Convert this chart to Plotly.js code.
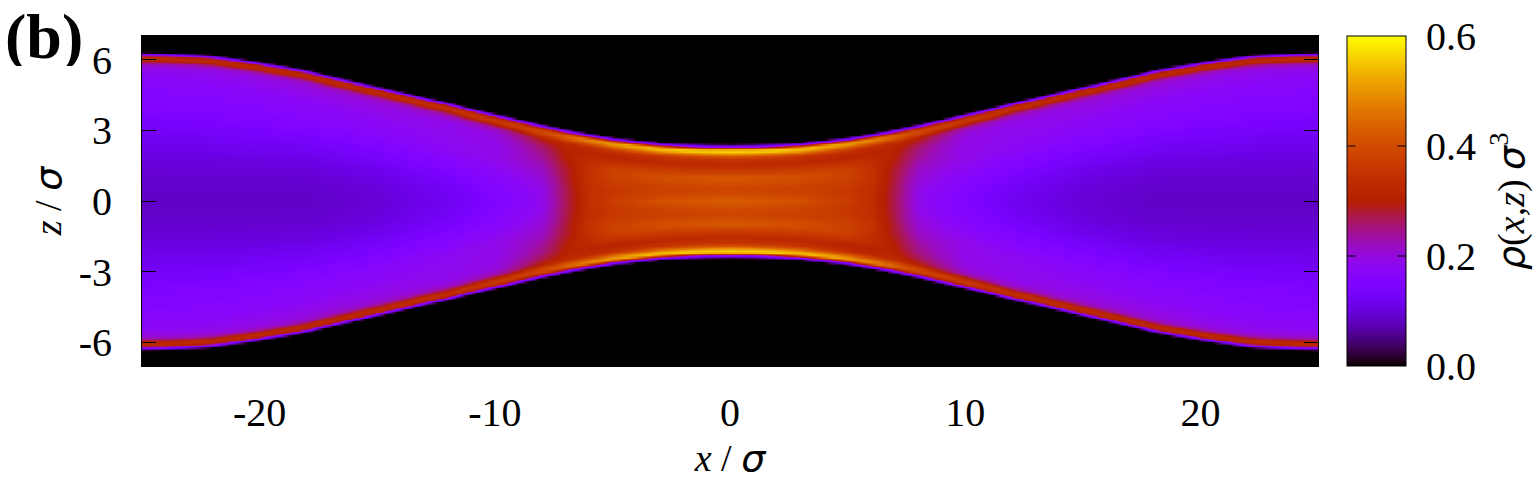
<!DOCTYPE html>
<html>
<head>
<meta charset="utf-8">
<script src="https://cdn.plot.ly/plotly-3.0.1.min.js"></script>
<style>html,body{margin:0;padding:0;background:#fff}#chart{width:1534px;height:480px}</style>
</head>
<body>
<div id="chart"></div>
<script>
// Values (the chart is mirror-symmetric in x and z).
var wallX = [-25, -24, -23, -22, -21, -20, -19, -18, -17, -16, -15, -14, -13, -12, -11, -10, -9, -8, -7, -6, -5, -4, -3, -2, -1, 0];
var wallHeight = [6.31, 6.30, 6.26, 6.2, 6.07, 5.92, 5.76, 5.57, 5.33, 5.1, 4.88, 4.65, 4.42, 4.2, 3.95, 3.72, 3.5, 3.27, 3.07, 2.88, 2.72, 2.6, 2.5, 2.45, 2.42, 2.41];
var xStations  = [-25, -21, -18, -15, -12, -10, -9, -8, -7.4, -6.8, -6, -5, -3, 0];
// Sampling of every column: depth below the wall, then fractions of what remains to the mid-plane.
var depthStops = [0, 0.06, 0.13, 0.2, 0.25, 0.34, 0.45, 0.6, 0.85, 1.1, 1.4];
var midFractions = [0.2, 0.4, 0.6, 0.8, 1];
var densityProfiles = [
  [0,.10,.27,.32,.33,.32,.24,.20,.18,.175,.165,  .15,.125,.105,.09,.085],
  [0,.10,.27,.32,.33,.32,.24,.20,.185,.18,.17,   .155,.13,.105,.09,.085],
  [0,.10,.27,.32,.33,.32,.24,.205,.195,.185,.175,.16,.13,.105,.09,.085],
  [0,.10,.28,.32,.33,.32,.25,.21,.195,.19,.18,   .165,.14,.115,.10,.095],
  [0,.10,.28,.33,.34,.34,.27,.215,.19,.185,.185, .18,.16,.14,.125,.118],
  [0,.10,.28,.33,.36,.36,.31,.23,.20,.195,.19,   .19,.18,.165,.155,.15],
  [0,.10,.26,.33,.37,.38,.33,.26,.235,.22,.21,   .205,.19,.18,.17,.165],
  [0,.10,.24,.34,.38,.39,.37,.30,.27,.25,.24,    .22,.21,.20,.19,.19],
  [0,.10,.22,.35,.40,.42,.39,.32,.29,.28,.27,    .26,.25,.24,.24,.235],
  [0,.10,.22,.37,.43,.45,.40,.33,.31,.31,.30,    .29,.29,.285,.28,.28],
  [0,.10,.22,.40,.48,.48,.41,.33,.31,.33,.34,    .35,.35,.34,.34,.34],
  [0,.10,.22,.43,.51,.50,.42,.34,.31,.35,.38,    .38,.37,.36,.36,.37],
  [0,.10,.22,.47,.55,.54,.44,.35,.32,.36,.40,    .40,.38,.38,.39,.41],
  [0,.10,.22,.50,.57,.56,.46,.36,.33,.36,.42,    .41,.39,.39,.41,.43]
];
var xTickVals = [-20, -10, 0, 10, 20];
var xTickText = ['-20', '-10', '0', '10', '20'];
var zTickVals = [-6, -3, 0, 3, 6];
var zTickText = ['-6', '-3', '0', '3', '6'];
var barTickVals = [0, 0.2, 0.4, 0.6];
var barTickText = ['0.0', '0.2', '0.4', '0.6'];
var barMarkVals = [0.2, 0.4];

// Resample the table onto the rectangular grid a heatmap needs.
function bracket(list, v) {
  var i = 0;
  while (i < list.length - 2 && v > list[i + 1]) i++;
  var t = (v - list[i]) / (list[i + 1] - list[i]);
  return [i, Math.max(0, Math.min(1, t))];
}
function density(x, z) {
  var ax = -Math.abs(x);
  var bw = bracket(wallX, ax);
  var h = wallHeight[bw[0]] * (1 - bw[1]) + wallHeight[bw[0] + 1] * bw[1];
  var d = h - Math.abs(z);
  if (d <= 0) return 0;
  var bx = bracket(xStations, ax), i = bx[0], t = bx[1];
  var last = depthStops[depthStops.length - 1], stops = depthStops.slice();
  midFractions.forEach(function (f) { stops.push(last + f * (h - last)); });
  var bd = bracket(stops, d), j = bd[0], s = bd[1];
  var a = densityProfiles[i][j] * (1 - s) + densityProfiles[i][j + 1] * s;
  var b = densityProfiles[i + 1][j] * (1 - s) + densityProfiles[i + 1][j + 1] * s;
  return a * (1 - t) + b * t;
}
var gridX = [], gridZ = [], grid = [];
for (var ix = 0; ix <= 400; ix++) gridX.push(-25 + ix * 0.125);
for (var iz = 0; iz <= 140; iz++) gridZ.push(-7 + iz * 0.1);
gridZ.forEach(function (z) { grid.push(gridX.map(function (x) { return density(x, z); })); });

// gnuplot's default pm3d palette (rgbformulae 7,5,15).
var colorscale = [];
for (var k = 0; k <= 100; k++) {
  var c = k / 100;
  var r = Math.round(255 * Math.sqrt(c));
  var g = Math.round(255 * c * c * c);
  var bl = Math.round(255 * Math.max(0, Math.sin(2 * Math.PI * c)));
  colorscale.push([c, 'rgb(' + r + ',' + g + ',' + bl + ')']);
}

var serif = '"Liberation Serif", serif';
var sig = '<span style="font-family:\'DejaVu Sans\';font-style:oblique">σ</span>';
var rho = '<span style="font-family:\'DejaVu Sans\';font-style:oblique">ρ</span>';
var tickFont = {family: serif, size: 40, color: '#000'};
var titleFont = {family: serif, size: 38, color: '#000'};

var barLeft = (1347 - 142) / 1176, barRight = (1406 - 142) / 1176;
var annotations = [{
  text: '<b>(b)</b>', xref: 'paper', yref: 'paper', x: -0.118, xanchor: 'left', y: 1.097, yanchor: 'top',
  height: 60, valign: 'middle',
  showarrow: false, font: {family: serif, size: 64, color: '#000'}
}, {
  text: rho + '(<i>x,z</i>) ' + sig + '<sup>3</sup>', xref: 'paper', yref: 'paper',
  x: (1508 - 142) / 1176, xanchor: 'center', y: 0.5, yanchor: 'middle', textangle: -90,
  showarrow: false, font: titleFont
}];
// The colour bar's inner tick marks on both of its sides.
barMarkVals.forEach(function (v) {
  [[barLeft, 10], [barRight, -10]].forEach(function (side) {
    annotations.push({text: '', xref: 'paper', yref: 'paper', x: side[0], y: v / 0.6,
      showarrow: true, arrowhead: 0, arrowwidth: 1, arrowcolor: '#000', ax: side[1], ay: 0, standoff: 0});
  });
});

Plotly.newPlot('chart', [{
  type: 'heatmap', x: gridX, y: gridZ, z: grid, zmin: 0, zmax: 0.6,
  zsmooth: 'best', colorscale: colorscale, hoverinfo: 'skip',
  colorbar: {
    x: barLeft, xanchor: 'left', xpad: 0, y: 0.5, yanchor: 'middle', ypad: 0, len: 1,
    thickness: 59, thicknessmode: 'pixels', outlinecolor: '#000', outlinewidth: 1,
    tickmode: 'array', tickvals: barTickVals, ticktext: barTickText,
    ticks: 'outside', ticklen: 12, tickcolor: 'rgba(0,0,0,0)', tickfont: tickFont
  }
}], {
  width: 1534, height: 480, paper_bgcolor: '#fff', plot_bgcolor: '#000',
  margin: {l: 142, r: 216, t: 36, b: 114},
  font: tickFont,
  showlegend: false,
  xaxis: {
    range: [-25, 25], tickmode: 'array', tickvals: xTickVals, ticktext: xTickText,
    ticks: 'inside', ticklen: 14, tickcolor: '#000', tickfont: tickFont, ticklabelstandoff: 11,
    showline: true, linecolor: '#000', linewidth: 1, mirror: 'ticks', showgrid: false, zeroline: false,
    title: {text: '<i>x</i> / ' + sig, font: titleFont, standoff: 15}
  },
  yaxis: {
    range: [-7, 7], tickmode: 'array', tickvals: zTickVals, ticktext: zTickText,
    ticks: 'inside', ticklen: 14, tickcolor: '#000', tickfont: tickFont, ticklabelstandoff: 21,
    showline: true, linecolor: '#000', linewidth: 1, mirror: 'ticks', showgrid: false, zeroline: false,
    title: {text: '<i>z</i> / ' + sig, font: titleFont, standoff: 5}
  },
  annotations: annotations
}, {displayModeBar: false, staticPlot: true});
</script>
</body>
</html>
